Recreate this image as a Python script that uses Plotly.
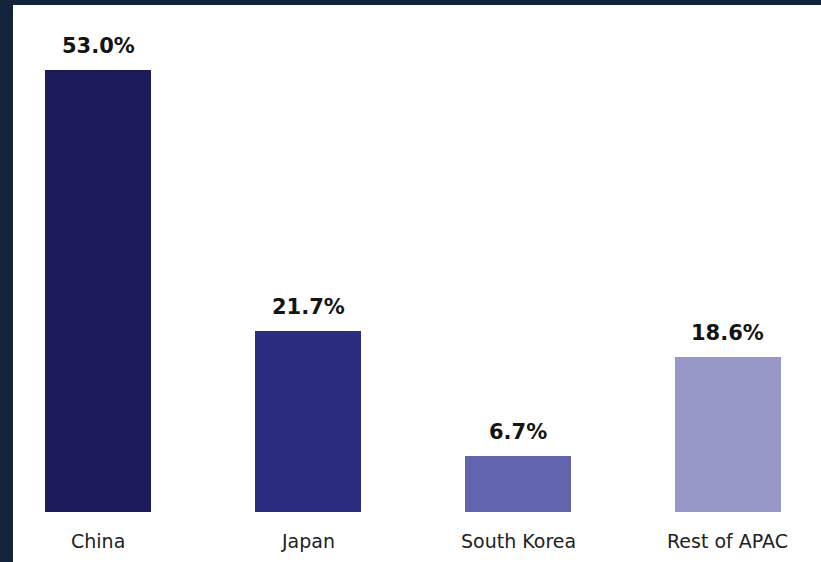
import plotly.graph_objects as go

categories = ["China", "Japan", "South Korea", "Rest of APAC"]
shares = [53.0, 21.7, 6.7, 18.6]
value_labels = ["53.0%", "21.7%", "6.7%", "18.6%"]
colors = ["#1c1b5c", "#2a2c80", "#6264ae", "#9898c8"]

fig = go.Figure()
fig.add_trace(go.Bar(
    x=categories, y=shares, width=0.505,
    marker=dict(color=colors, line=dict(width=0)),
    hoverinfo="skip", showlegend=False,
))

for c, v, lab in zip(categories, shares, value_labels):
    fig.add_annotation(x=c, y=v, text=f"<b>{lab}</b>", showarrow=False,
                       yanchor="middle", yshift=24,
                       font=dict(family="DejaVu Sans", size=21, color="#141414"))
    fig.add_annotation(x=c, y=0, text=c, showarrow=False,
                       yanchor="middle", yshift=-29,
                       font=dict(family="DejaVu Sans", size=19, color="#222222"))

fig.update_layout(
    width=821, height=562,
    margin=dict(l=13, r=0, t=5, b=0),
    paper_bgcolor="#13243a",
    plot_bgcolor="#ffffff",
    xaxis=dict(type="category", range=[-0.405, 3.443], visible=False, fixedrange=True),
    yaxis=dict(range=[-6.0, 60.8], visible=False, fixedrange=True),
    bargap=0,
)

fig.write_html("out.html")
